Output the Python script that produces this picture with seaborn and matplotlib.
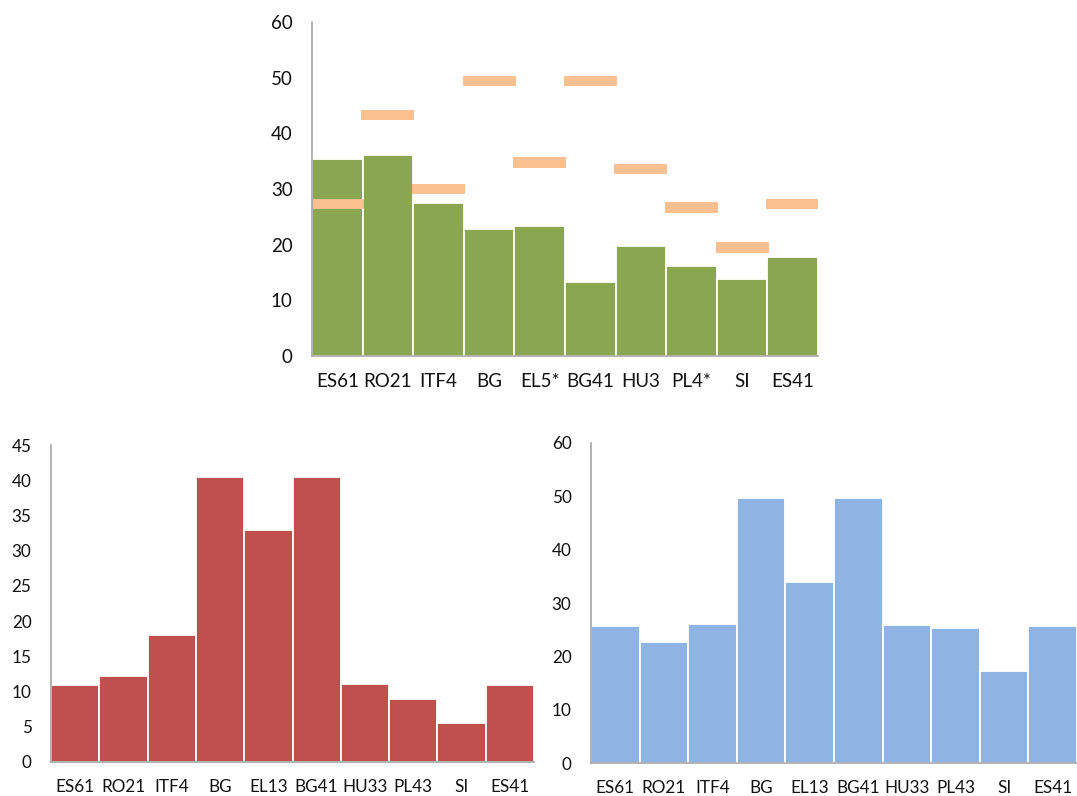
import matplotlib
matplotlib.use("Agg")
import matplotlib.pyplot as plt
import numpy as np
import pandas as pd
import seaborn as sns

sns.set_theme(style="white")
plt.rcParams["font.family"] = ["Lato", "DejaVu Sans"]

# Top panel: regional values (bars) and reference levels (orange dashes)
top_regions = ["ES61", "RO21", "ITF4", "BG", "EL5*", "BG41", "HU3", "PL4*", "SI", "ES41"]
top_values = [35.4, 36.1, 27.4, 22.8, 23.3, 13.3, 19.8, 16.2, 13.8, 17.7]
top_reference = [27.3, 43.3, 30.0, 49.4, 34.7, 49.4, 33.6, 26.7, 19.5, 27.3]

# Bottom panels
bottom_regions = ["ES61", "RO21", "ITF4", "BG", "EL13", "BG41", "HU33", "PL43", "SI", "ES41"]
left_values = [11.0, 12.2, 18.0, 40.5, 32.9, 40.5, 11.1, 8.9, 5.5, 11.0]
right_values = [25.6, 22.6, 26.0, 49.6, 34.0, 49.6, 25.8, 25.3, 17.3, 25.6]

GREEN = "#8BA650"
ORANGE = "#FAC08F"
RED = "#C0504D"
BLUE = "#8EB4E3"
AXIS_GREY = "#A6A6A6"
TEXT = "#111111"

W, H = 1077, 796
fig = plt.figure(figsize=(W / 100, H / 100), dpi=100)


def add_axes(left, right, top, bottom):
    return fig.add_axes([left / W, 1 - bottom / H, (right - left) / W, (bottom - top) / H])


def style_axis(ax, cats, ymax, ystep, fontsize, xpad):
    n = len(cats)
    ax.set_xlim(-0.5, n - 0.5)
    ax.set_ylim(0, ymax)
    ax.set_yticks(np.arange(0, ymax + 0.1, ystep))
    ax.set_xticks(np.arange(n))
    ax.set_xticklabels(cats)
    ax.set_xticks(np.arange(-0.5, n, 1.0), minor=True)
    ax.tick_params(axis="x", which="major", length=0, pad=xpad, labelsize=fontsize, labelcolor=TEXT)
    ax.tick_params(axis="x", which="minor", length=5, width=1.2, color=AXIS_GREY, direction="out")
    ax.tick_params(axis="y", length=5, width=1.2, color=AXIS_GREY, direction="out", pad=9,
                   labelsize=fontsize, labelcolor=TEXT)
    for side in ("top", "right"):
        ax.spines[side].set_visible(False)
    for side in ("left", "bottom"):
        ax.spines[side].set_color(AXIS_GREY)
        ax.spines[side].set_linewidth(1.2)
    ax.set_xlabel("")
    ax.set_ylabel("")
    ax.grid(False)
    ax.set_facecolor("white")


# Top chart
ax1 = add_axes(312, 818, 22, 356)
df_top = pd.DataFrame({"region": top_regions, "value": top_values})
sns.barplot(data=df_top, x="region", y="value", color=GREEN, width=1.0,
            edgecolor="white", linewidth=1.3, saturation=1, ax=ax1)
dash_h = 1.95
ax1.bar(np.arange(len(top_regions)), [dash_h] * len(top_regions),
        bottom=[v - dash_h / 2 for v in top_reference], width=1.05,
        color=ORANGE, linewidth=0, zorder=3)
style_axis(ax1, top_regions, 60, 10, 13.5, 12.5)
for s in ax1.spines.values():
    s.set_zorder(4)

# Bottom-left chart
ax2 = add_axes(51, 534, 445, 762)
df_left = pd.DataFrame({"region": bottom_regions, "value": left_values})
sns.barplot(data=df_left, x="region", y="value", color=RED, width=1.0,
            edgecolor="white", linewidth=1.3, saturation=1, ax=ax2)
style_axis(ax2, bottom_regions, 45, 5, 12.3, 12)

# Bottom-right chart
ax3 = add_axes(591, 1077, 443, 763)
df_right = pd.DataFrame({"region": bottom_regions, "value": right_values})
sns.barplot(data=df_right, x="region", y="value", color=BLUE, width=1.0,
            edgecolor="white", linewidth=1.3, saturation=1, ax=ax3)
style_axis(ax3, bottom_regions, 60, 10, 12.3, 12)

fig.savefig("out.png", dpi=100, facecolor="white")
